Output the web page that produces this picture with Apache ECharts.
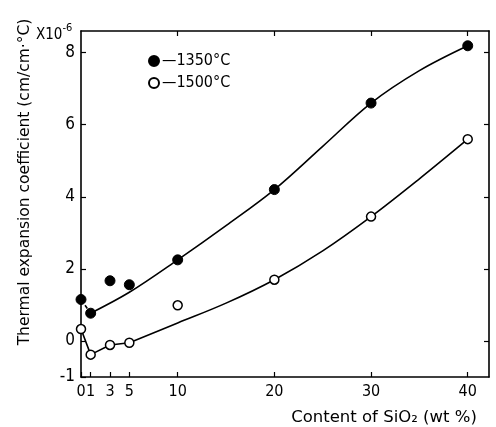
<!DOCTYPE html>
<html>
<head>
<meta charset="utf-8">
<script src="https://cdn.jsdelivr.net/npm/echarts@6/dist/echarts.min.js"></script>
<style>
  html, body { margin: 0; padding: 0; background: #fff; }
  #chart { width: 496px; height: 427px; }
</style>
</head>
<body>
<div id="chart"></div>
<script>
// measured points (SiO2 wt %, expansion x10^-6)
var sio2 = [0, 1, 3, 5, 10, 20, 30, 40];
var t1350 = [1.15, 0.77, 1.67, 1.56, 2.25, 4.2, 6.6, 8.19];
var t1500 = [0.33, -0.38, -0.11, -0.05, 0.99, 1.7, 3.45, 5.6];

// hand drawn fit curves
var fit1350X = [1, 5, 10, 15, 20, 25, 30, 35, 40];
var fit1350Y = [0.77, 1.35, 2.25, 3.2, 4.2, 5.4, 6.6, 7.5, 8.19];
var dash1350X = [0, 1];
var dash1350Y = [1.15, 0.77];
var low1500X = [0, 1, 3, 5];
var low1500Y = [0.33, -0.38, -0.11, -0.05];
var fit1500X = [5, 10, 15, 20, 25, 30, 35, 40];
var fit1500Y = [-0.05, 0.5, 1.05, 1.7, 2.5, 3.45, 4.5, 5.6];

var xTicks = [0, 1, 3, 5, 10, 20, 30, 40];
var yTicks = [-1, 0, 2, 4, 6, 8];

var FONT = '"DejaVu Sans Condensed", "Liberation Sans Narrow", "DejaVu Sans", sans-serif';
var WIDE = '"DejaVu Sans", sans-serif';

function pairs(xs, ys) {
    var res = [];
    for (var i = 0; i < xs.length; i++) {
        res.push([xs[i], ys[i]]);
    }
    return res;
}

var frameLine = { show: true, onZero: false, lineStyle: { color: '#000', width: 1.6 } };

var option = {
    animation: false,
    backgroundColor: '#fff',
    grid: { left: 81, right: 7, top: 31, bottom: 50 },
    legend: {
        left: 143,
        top: 48,
        orient: 'vertical',
        itemGap: 6,
        itemWidth: 10,
        itemHeight: 10,
        data: [
            { name: '1350', icon: 'circle' },
            { name: '1500', icon: 'circle' }
        ],
        formatter: function (name) { return '\u2014' + name + '\u00b0C'; },
        textStyle: { fontFamily: FONT, fontSize: 16, color: '#000', padding: [0, 0, 0, -2] }
    },
    xAxis: [{
        type: 'value',
        min: 0,
        max: 42.2,
        axisLine: frameLine,
        splitLine: { show: false },
        axisTick: { show: true, inside: true, length: 5, customValues: xTicks, lineStyle: { color: '#000', width: 1.2 } },
        axisLabel: { customValues: xTicks, margin: 7, color: '#000', fontFamily: FONT, fontSize: 16 }
    }, {
        type: 'value',
        position: 'top',
        min: 0,
        max: 42.2,
        axisLine: frameLine,
        splitLine: { show: false },
        axisTick: { show: true, inside: true, length: 5, customValues: [10, 20, 30, 40], lineStyle: { color: '#000', width: 1.2 } },
        axisLabel: { show: false }
    }],
    yAxis: [{
        type: 'value',
        min: -1,
        max: 8.6,
        axisLine: frameLine,
        splitLine: { show: false },
        axisTick: { show: true, inside: true, length: 5, customValues: yTicks, lineStyle: { color: '#000', width: 1.2 } },
        axisLabel: { customValues: yTicks, margin: 6, color: '#000', fontFamily: FONT, fontSize: 17 }
    }, {
        type: 'value',
        position: 'right',
        min: -1,
        max: 8.6,
        axisLine: frameLine,
        splitLine: { show: false },
        axisTick: { show: true, inside: true, length: 5, customValues: [0, 2, 4, 6, 8], lineStyle: { color: '#000', width: 1.2 } },
        axisLabel: { show: false }
    }],
    graphic: [
        {
            type: 'text',
            x: 25,
            y: 182,
            rotation: Math.PI / 2,
            style: {
                text: 'Thermal expansion coefficient (cm/cm\u00b7\u00b0C)',
                font: '15.5px ' + WIDE,
                fill: '#000',
                align: 'center',
                verticalAlign: 'middle'
            }
        },
        {
            type: 'text',
            x: 36,
            y: 33,
            style: {
                text: '{a|X10}{b|-6}',
                rich: {
                    a: { fontFamily: FONT, fontSize: 15, fill: '#000', verticalAlign: 'bottom' },
                    b: { fontFamily: FONT, fontSize: 11, fill: '#000', verticalAlign: 'top', padding: [0, 0, 9, 0] }
                },
                align: 'left',
                verticalAlign: 'middle'
            }
        },
        {
            type: 'text',
            x: 384,
            y: 418,
            style: {
                text: 'Content of SiO\u2082 (wt %)',
                font: '16.5px ' + WIDE,
                fill: '#000',
                align: 'center',
                verticalAlign: 'middle'
            }
        }
    ],
    series: [
        {
            name: 'fit1350',
            type: 'line',
            smooth: 0.35,
            showSymbol: false,
            data: pairs(fit1350X, fit1350Y),
            lineStyle: { color: '#000', width: 1.6 },
            z: 2
        },
        {
            name: 'dash1350',
            type: 'line',
            showSymbol: false,
            data: pairs(dash1350X, dash1350Y),
            lineStyle: { color: '#000', width: 1.6, type: [4, 3] },
            z: 2
        },
        {
            name: 'low1500',
            type: 'line',
            showSymbol: false,
            data: pairs(low1500X, low1500Y),
            lineStyle: { color: '#000', width: 1.6 },
            z: 2
        },
        {
            name: 'fit1500',
            type: 'line',
            smooth: 0.35,
            showSymbol: false,
            data: pairs(fit1500X, fit1500Y),
            lineStyle: { color: '#000', width: 1.6 },
            z: 2
        },
        {
            name: '1350',
            type: 'scatter',
            symbol: 'circle',
            symbolSize: 10,
            data: pairs(sio2, t1350),
            itemStyle: { color: '#000', borderColor: '#000', borderWidth: 1, opacity: 1 },
            z: 5
        },
        {
            name: '1500',
            type: 'scatter',
            symbol: 'circle',
            symbolSize: 9,
            data: pairs(sio2, t1500),
            itemStyle: { color: '#fff', borderColor: '#000', borderWidth: 1.5, opacity: 1 },
            z: 5
        }
    ]
};

var myChart = echarts.init(document.getElementById('chart'));
myChart.setOption(option);
</script>
</body>
</html>
